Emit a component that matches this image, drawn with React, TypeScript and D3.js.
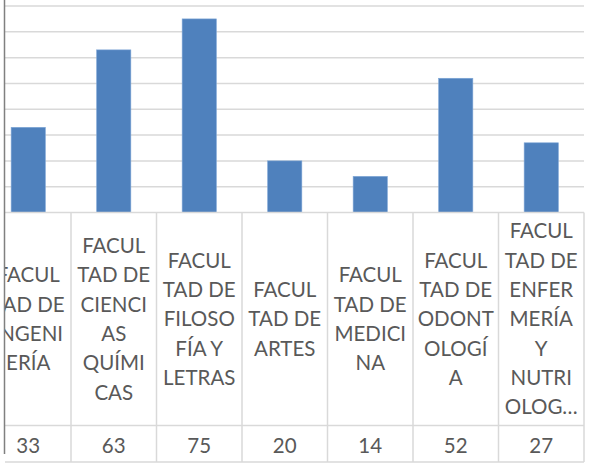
import React from "react";
import * as d3 from "d3";

const categories = [
  "FACULTAD DE INGENIERÍA",
  "FACULTAD DE CIENCIAS QUÍMICAS",
  "FACULTAD DE FILOSOFÍA Y LETRAS",
  "FACULTAD DE ARTES",
  "FACULTAD DE MEDICINA",
  "FACULTAD DE ODONTOLOGÍA",
  "FACULTAD DE ENFERMERÍA Y NUTRIOLOGÍA",
];
const labelLines = [
  ["FACUL", "TAD DE", "INGENI", "ERÍA"],
  ["FACUL", "TAD DE", "CIENCI", "AS", "QUÍMI", "CAS"],
  ["FACUL", "TAD DE", "FILOSO", "FÍA Y", "LETRAS"],
  ["FACUL", "TAD DE", "ARTES"],
  ["FACUL", "TAD DE", "MEDICI", "NA"],
  ["FACUL", "TAD DE", "ODONT", "OLOGÍ", "A"],
  ["FACUL", "TAD DE", "ENFER", "MERÍA", "Y", "NUTRI", "OLOG…"],
];
const values = [33, 63, 75, 20, 14, 52, 27];
const gridTicks = [10, 20, 30, 40, 50, 60, 70, 80];

export default function App() {
  const W = 589;
  const H = 465;
  const plotLeft = 5;
  const plotRight = 584;
  const baseY = 212.5;
  const rowY = 425.5;
  const tableBottom = 462;
  const x = d3.scaleBand<string>().domain(categories).range([-14.5, 584]).padding(0);
  const y = d3.scaleLinear().domain([0, 80]).range([baseY, 6]);
  const bw = x.bandwidth();
  const barW = bw * 0.4;
  const lineH = 29.3;
  const labelCenter = (baseY + rowY) / 2;
  const font = "Lato, 'Open Sans', sans-serif";
  const textColor = "#595959";
  const fs = 20.5;
  const boundaries = categories.map((c) => (x(c) as number) + bw);

  return (
    <svg
      width={W}
      height={H}
      style={{ position: "absolute", left: 0, top: 0, background: "#fff" }}
    >
      <defs>
        <clipPath id="clipL">
          <rect x={5} y={0} width={W} height={H} />
        </clipPath>
      </defs>
      <rect x={0} y={0} width={W} height={H} fill="#fff" />
      {gridTicks.map((t) => (
        <line
          key={t}
          x1={plotLeft}
          x2={plotRight}
          y1={y(t)}
          y2={y(t)}
          stroke="#d9d9d9"
          strokeWidth={1.5}
        />
      ))}
      {categories.map((c, i) => {
        const cx = (x(c) as number) + bw / 2;
        return (
          <rect
            key={c}
            x={cx - barW / 2}
            y={y(values[i])}
            width={barW}
            height={baseY - y(values[i])}
            fill="#4f81bd"
            stroke="#7ea6d6"
            strokeWidth={0.6}
          />
        );
      })}
      <line x1={plotLeft} x2={plotRight} y1={baseY} y2={baseY} stroke="#d9d9d9" strokeWidth={1.5} />
      <line x1={plotLeft} x2={plotRight} y1={rowY} y2={rowY} stroke="#d9d9d9" strokeWidth={1.5} />
      <line x1={plotLeft} x2={plotRight} y1={tableBottom} y2={tableBottom} stroke="#d9d9d9" strokeWidth={1.5} />
      {boundaries.map((bx, i) => (
        <line key={i} x1={bx} x2={bx} y1={baseY} y2={tableBottom} stroke="#d9d9d9" strokeWidth={1.5} />
      ))}
      <g clipPath="url(#clipL)">
        {categories.map((c, i) => {
          const cx = (x(c) as number) + bw / 2;
          const lines = labelLines[i];
          const first = labelCenter - ((lines.length - 1) / 2) * lineH;
          return (
            <g key={c}>
              {lines.map((ln, j) => (
                <text
                  key={j}
                  x={cx}
                  y={first + j * lineH + 7.3}
                  textAnchor="middle"
                  fontFamily={font}
                  fontSize={fs}
                  fill={textColor}
                >
                  {ln}
                </text>
              ))}
              <text
                x={cx}
                y={445 + 7.5}
                textAnchor="middle"
                fontFamily={font}
                fontSize={fs}
                fill={textColor}
              >
                {values[i]}
              </text>
            </g>
          );
        })}
      </g>
      <line x1={4.5} x2={4.5} y1={0} y2={454} stroke="#808080" strokeWidth={1.5} />
    </svg>
  );
}
